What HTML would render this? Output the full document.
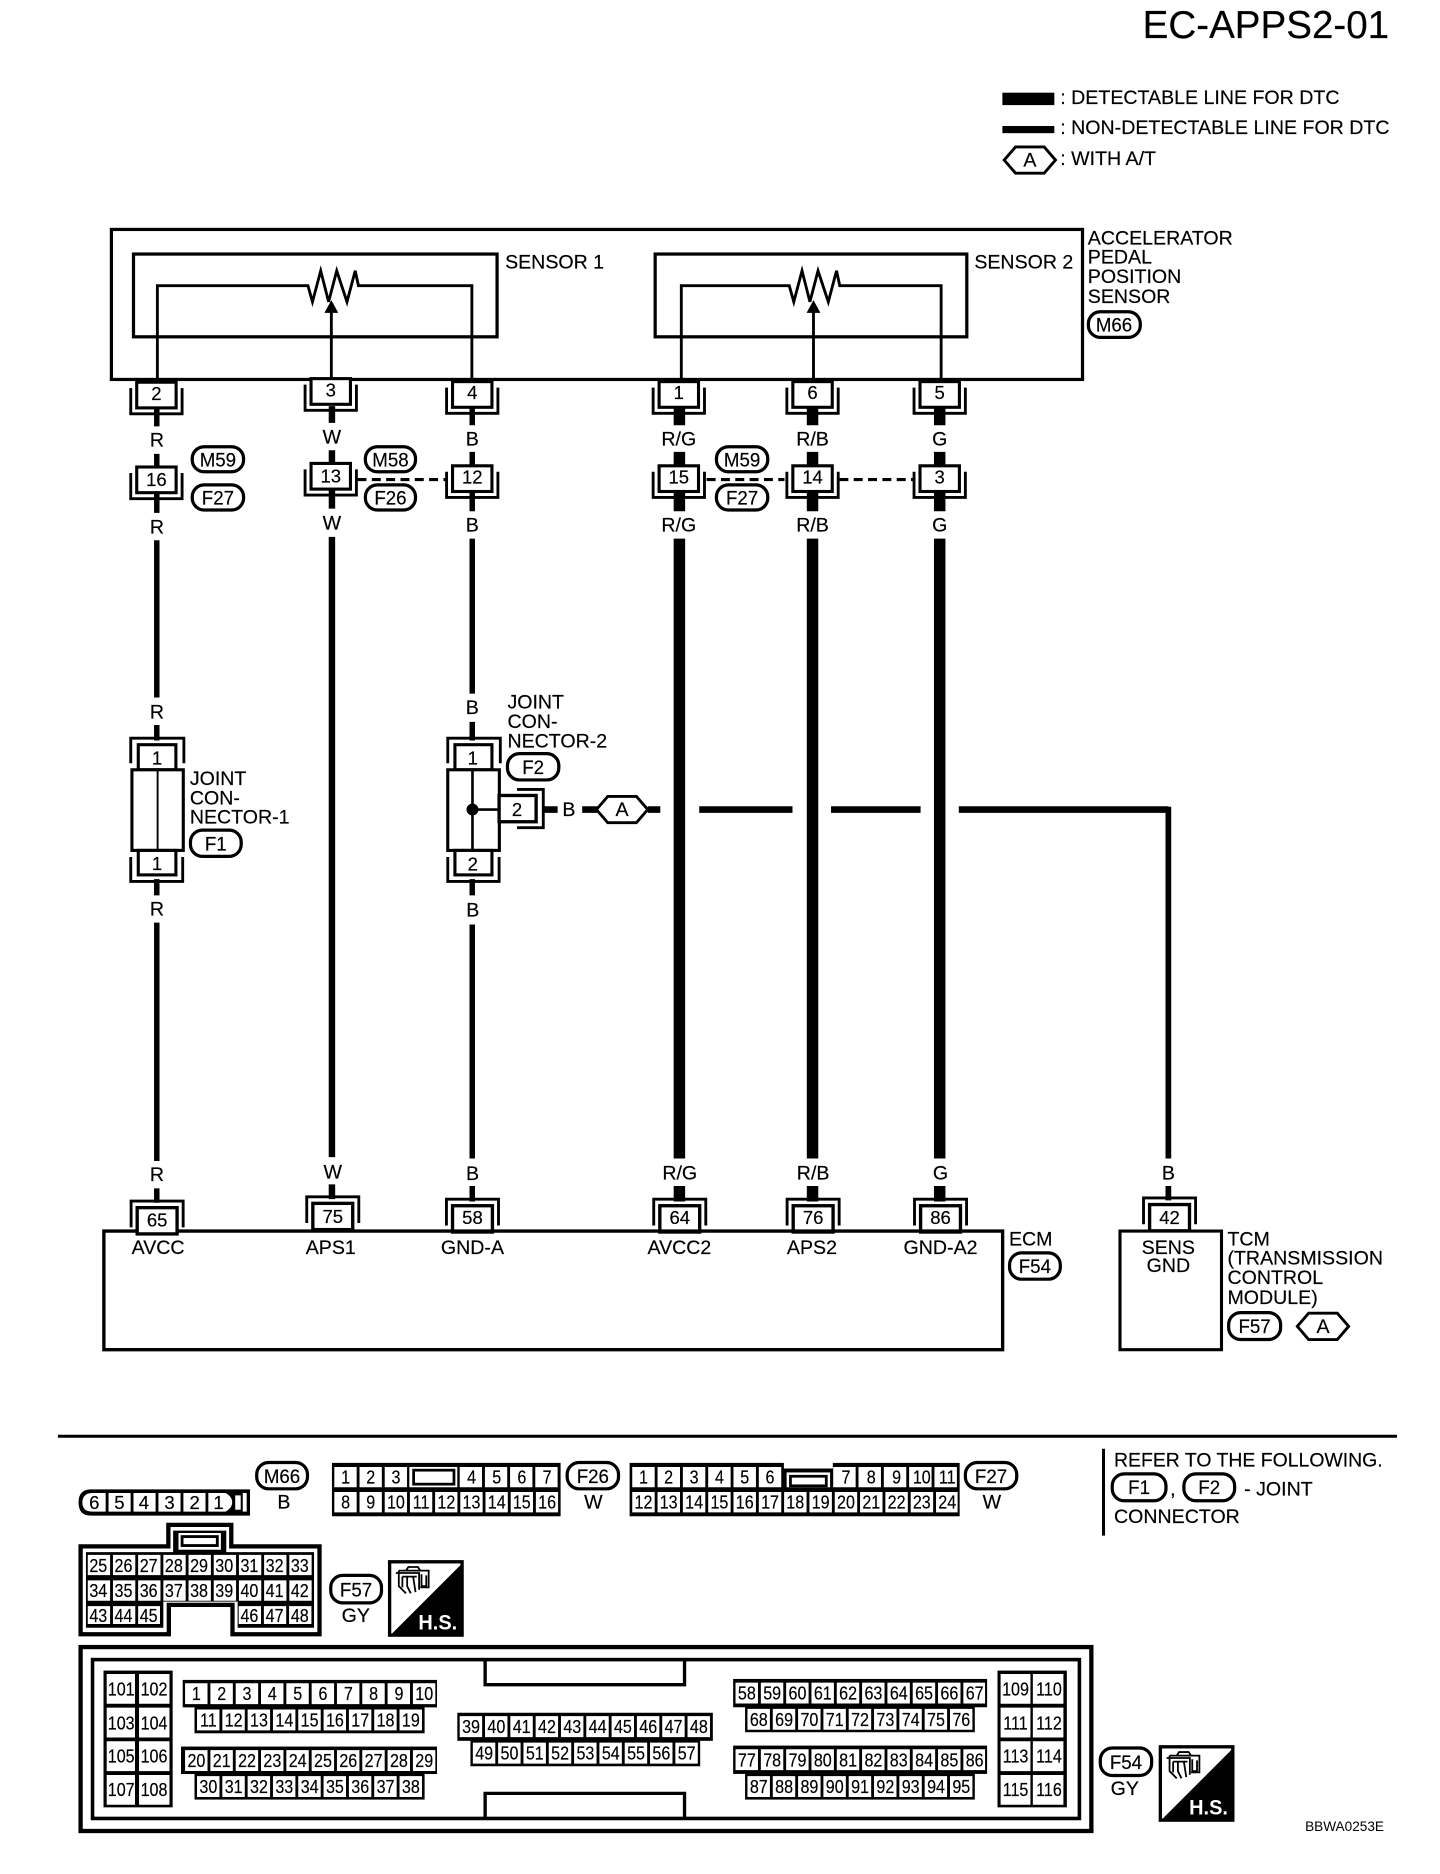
<!DOCTYPE html>
<html><head><meta charset="utf-8"><title>EC-APPS2-01</title>
<style>
html,body{margin:0;padding:0;background:#fff}
svg{display:block;width:1440px;height:1874px}
text{font-family:"Liberation Sans",sans-serif;fill:#000;font-size:16.4px;stroke:#000;stroke-width:.15}
.m text{text-anchor:middle}
.n text{text-anchor:middle;font-size:15.5px}
.nn text{text-anchor:middle;font-size:15.5px;transform-box:fill-box;transform-origin:center;transform:scaleX(.87)}
.p text{text-anchor:middle;font-size:16.5px;transform-box:fill-box;transform-origin:center;transform:scaleX(.95)}
.l{fill:none;stroke:#000;stroke-width:2.4}
.c{fill:none;stroke:#fff;stroke-dasharray:18.8 2.4}
.hs{font-size:18px;font-weight:bold;fill:#fff;stroke:none}
</style></head><body>
<svg viewBox="0 0 1206 1569" preserveAspectRatio="none" xmlns="http://www.w3.org/2000/svg">
<defs>
<g id="cd"><path class="l" d="M-21.5 5V26.5H21.5V5"/><rect x="-16.5" y="0" width="33" height="21.5" fill="#fff" stroke="#000" stroke-width="2.6"/></g>
<g id="cu"><path class="l" d="M-21.8 22V0H21.8V22"/><rect x="-16.7" y="5.5" width="33.4" height="22" fill="#fff" stroke="#000" stroke-width="2.8"/></g>
<g id="hs"><rect x="326.3" y="1307.6" width="60.7" height="61.4" fill="#fff" stroke="#000" stroke-width="2.8"/><path d="M387 1309V1369H327Z"/><path class="l" style="stroke-width:1.5" d="M331.5 1317H351V1331M334 1315H359V1329H352M334 1315V1328L340 1334M337 1320H349M337 1320V1329M341 1320V1328L344 1334M346 1320L348 1333M353 1318V1328H357V1319M340 1315L342 1312H350L352 1315"/></g>
<polygon id="hx" class="l" points="-21.5,0 -12,-11 12,-11 21.5,0 12,11 -12,11"/>
</defs>

<!-- header -->
<text x="957" y="32" style="font-size:32.3px">EC-APPS2-01</text>
<rect x="839.5" y="77.6" width="43.5" height="10.4"/>
<rect x="839.5" y="105.5" width="43.5" height="6"/>
<use href="#hx" x="862.5" y="134"/>
<text x="862.5" y="139.5" text-anchor="middle">A</text>
<text x="888" y="87">: DETECTABLE LINE FOR DTC</text>
<text x="888" y="112">: NON-DETECTABLE LINE FOR DTC</text>
<text x="888" y="138">: WITH A/T</text>

<!-- sensor -->
<rect class="l" x="93.3" y="192.1" width="813.3" height="125.6" style="stroke-width:2.7"/>
<rect class="l" x="111.8" y="212.7" width="304.5" height="69.3" style="stroke-width:2.7"/>
<rect class="l" x="548.7" y="212.7" width="261" height="69.3" style="stroke-width:2.7"/>
<path class="l" d="M131.8 318V239.2H257.9L261.7 252.7 268.6 226.7 275.2 252.7 282 226.7 290.6 252.7 297.5 226.7 300.2 239.2H395.2V318"/>
<path class="l" d="M277.5 318V260"/><path d="M277.5 251.3L283.3 262H271.7Z"/>
<path class="l" d="M570.6 318V239.2H661L664.8 252.7 671.7 226.7 678.3 252.7 685.1 226.7 693.7 252.7 700.6 226.7 703.3 239.2H788.2V318"/>
<path class="l" d="M681.3 318V260"/><path d="M681.3 251.3L687.1 262H675.5Z"/>
<text x="423" y="225">SENSOR 1</text>
<text x="816" y="225">SENSOR 2</text>
<text x="911" y="204.6">ACCELERATOR</text>
<text x="911" y="220.7">PEDAL</text>
<text x="911" y="237">POSITION</text>
<text x="911" y="253.5">SENSOR</text>

<!-- wires -->
<g fill="none" stroke="#000">
<path stroke-width="4.6" d="M131.3 340V357M131.3 380V395M131.3 412V429.4M131.3 452.3V584M131.3 607V620M131.3 736V749.6M131.3 772.5V972M131.3 995V1007"/>
<path stroke-width="5.4" d="M278 340V354M278 377V390M278 410V425.8M278 449.5V968.8M278 991.6V1004"/>
<path stroke-width="4.6" d="M395.5 340V356M395.5 378.3V392M395.5 412V428M395.5 451V580.7M395.5 604.4V620M395.5 736V749.6M395.5 774V970M395.5 993V1006"/>
<path stroke-width="9.6" d="M569 340V356M569 378.3V392M569 412V428M569 451V970M569 993V1006"/>
<path stroke-width="9.6" d="M680.5 340V356M680.5 378.3V392M680.5 412V428M680.5 451V970M680.5 993V1006"/>
<path stroke-width="9.6" d="M787 340V356M787 378.3V392M787 412V428M787 451V970M787 993V1006"/>
<path stroke-width="5.6" d="M455 677.8H467M487.6 677.8H500M542.6 677.8H553M585.6 677.8H663.7M696 677.8H771M803 677.8H978.5"/>
<path stroke-width="4.8" d="M978.5 675.4V970M978.5 993V1005"/>
<path stroke-width="2.6" stroke-dasharray="7.5 4.5" d="M299.4 401.5H375M591.8 401.5H657M703 401.5H765"/>
</g>

<!-- connectors -->
<use href="#cd" x="131" y="320"/><use href="#cd" x="277" y="317"/><use href="#cd" x="395.5" y="319.5"/><use href="#cd" x="568.5" y="319.5"/><use href="#cd" x="680.5" y="319.5"/><use href="#cd" x="787" y="319.5"/>
<use href="#cd" x="131" y="391"/><use href="#cd" x="277" y="388"/><use href="#cd" x="395.5" y="390"/><use href="#cd" x="568.5" y="390"/><use href="#cd" x="680.5" y="390"/><use href="#cd" x="787" y="390"/>
<use href="#cu" x="278.7" y="1002"/><use href="#cu" x="395.7" y="1004"/><use href="#cu" x="569.3" y="1004"/><use href="#cu" x="681" y="1004"/><use href="#cu" x="787.7" y="1004"/><use href="#cu" x="979.5" y="1003"/>
<g class="n">
<text x="131" y="335">2</text><text x="277" y="332">3</text><text x="395.5" y="334">4</text><text x="568.5" y="334">1</text><text x="680.5" y="334">6</text><text x="787" y="334">5</text>
<text x="131" y="407">16</text><text x="277" y="404">13</text><text x="395.5" y="405">12</text><text x="568.5" y="405">15</text><text x="680.5" y="405">14</text><text x="787" y="405">3</text>
<text x="278.7" y="1024">75</text><text x="395.7" y="1025">58</text><text x="569.3" y="1025">64</text><text x="681" y="1025">76</text><text x="787.7" y="1025">86</text><text x="979.5" y="1025">42</text>
</g>
<g class="m">
<text x="131.5" y="374">R</text><text x="278" y="371.5">W</text><text x="395.5" y="373">B</text><text x="568.5" y="373">R/G</text><text x="680.5" y="373">R/B</text><text x="787" y="373">G</text>
<text x="131.5" y="446.5">R</text><text x="278" y="443.5">W</text><text x="395.5" y="445">B</text><text x="568.5" y="445">R/G</text><text x="680.5" y="445">R/B</text><text x="787" y="445">G</text>
<text x="131.5" y="601.5">R</text><text x="395.5" y="598">B</text><text x="131.5" y="766.5">R</text><text x="396" y="767.5">B</text><text x="476.5" y="683">B</text>
<text x="131.5" y="989">R</text><text x="278.7" y="986.5">W</text><text x="395.7" y="988">B</text><text x="569.3" y="987.5">R/G</text><text x="681" y="987.5">R/B</text><text x="787.7" y="987.5">G</text><text x="978.5" y="987.5">B</text>
<text x="277" y="1049.7">APS1</text><text x="395.7" y="1049.7">GND-A</text><text x="569" y="1049.7">AVCC2</text><text x="680" y="1049.7">APS2</text><text x="787.7" y="1049.7">GND-A2</text>
<text x="978.5" y="1049.7">SENS</text><text x="978.5" y="1065">GND</text>
</g>

<!-- joint connector 1 -->
<path class="l" d="M109.5 639V618H154V639"/>
<rect x="115.8" y="623.5" width="31.5" height="21" fill="#fff" stroke="#000" stroke-width="2.6"/>
<rect x="110.5" y="644.5" width="43" height="67.5" fill="#fff" stroke="#000" stroke-width="2.6"/>
<path stroke="#000" stroke-width="1.6" d="M132 645V712"/>
<rect x="115.8" y="712" width="31.5" height="20.5" fill="#fff" stroke="#000" stroke-width="2.6"/>
<path class="l" d="M109.5 717.5V738H153V717.5"/>
<g class="n"><text x="131.5" y="640">1</text><text x="131.5" y="728.5">1</text></g>
<text x="159" y="657.4">JOINT</text><text x="159" y="673.4">CON-</text><text x="159" y="689.6">NECTOR-1</text>

<!-- joint connector 2 -->
<path class="l" d="M375 639V618H419V639"/>
<rect x="381" y="623.5" width="31" height="21" fill="#fff" stroke="#000" stroke-width="2.6"/>
<rect x="375" y="644.5" width="43.2" height="67.5" fill="#fff" stroke="#000" stroke-width="2.6"/>
<path stroke="#000" stroke-width="2.2" d="M395.7 645V712M395.7 677.8H418"/><circle cx="395.7" cy="677.8" r="5"/>
<rect x="381" y="712" width="31" height="20.5" fill="#fff" stroke="#000" stroke-width="2.6"/>
<path class="l" d="M375 717.5V738H418V717.5"/>
<path class="l" d="M433 661H455V693H433"/>
<rect x="418" y="666" width="31" height="22" fill="#fff" stroke="#000" stroke-width="2.8"/>
<g class="n"><text x="396" y="640">1</text><text x="396" y="729">2</text><text x="433" y="683">2</text></g>
<text x="425" y="593">JOINT</text><text x="425" y="609.4">CON-</text><text x="425" y="626">NECTOR-2</text>
<use href="#hx" x="521" y="677.8"/><text x="521" y="683.3" text-anchor="middle">A</text>

<!-- ECM / TCM -->
<path class="l" d="M115 1030.7H87V1130H839.7V1030.7H115" style="stroke-width:2.8"/>
<path class="l" d="M938 1030.7H1023V1130H938Z" style="stroke-width:2.6"/>
<use href="#cu" x="131.6" y="1005.6"/>
<text x="131.6" y="1027" text-anchor="middle" style="font-size:15.5px">65</text>
<text x="132.4" y="1049.7" text-anchor="middle">AVCC</text>
<text x="845" y="1042.7">ECM</text>
<text x="1028" y="1042.7">TCM</text><text x="1028" y="1058.7">(TRANSMISSION</text><text x="1028" y="1074.9">CONTROL</text><text x="1028" y="1091.6">MODULE)</text>
<use href="#hx" x="1108" y="1110.5"/><text x="1108" y="1116" text-anchor="middle">A</text>

<!-- pills -->
<g fill="#fff" stroke="#000" stroke-width="2.7">
<rect x="911.5" y="261" width="43.5" height="21.5" rx="10"/>
<rect x="161" y="374" width="43" height="21" rx="10"/><rect x="161" y="406" width="43" height="21" rx="10"/>
<rect x="306" y="374" width="42" height="21" rx="10"/><rect x="306" y="406" width="42" height="21" rx="10"/>
<rect x="600" y="374" width="43" height="21" rx="10"/><rect x="600" y="406" width="43" height="21" rx="10"/>
<rect x="159.5" y="695" width="42.5" height="22" rx="10"/><rect x="425" y="631" width="43" height="22" rx="10"/>
<rect x="845.5" y="1049" width="42.5" height="22" rx="10"/><rect x="1029" y="1099" width="43.5" height="22.5" rx="10"/>
<rect x="215" y="1224.5" width="42.5" height="22" rx="10"/><rect x="475" y="1224.5" width="43" height="22" rx="10"/><rect x="808.5" y="1224.5" width="43" height="22" rx="10"/>
<rect x="931.5" y="1234" width="45" height="22.5" rx="10"/><rect x="991.5" y="1234" width="42.5" height="22.5" rx="10"/>
<rect x="277" y="1319" width="42.5" height="23" rx="10"/><rect x="921.5" y="1463.5" width="43" height="23" rx="10"/>
</g>
<g class="p">
<text x="933" y="277.5">M66</text>
<text x="182.5" y="390.5">M59</text><text x="182.5" y="422.5">F27</text><text x="327" y="390.5">M58</text><text x="327" y="422.5">F26</text><text x="621.5" y="390.5">M59</text><text x="621.5" y="422.5">F27</text>
<text x="180.7" y="712">F1</text><text x="446.5" y="648">F2</text><text x="866.7" y="1066">F54</text><text x="1050.7" y="1116">F57</text>
<text x="236.2" y="1241.5">M66</text><text x="496.5" y="1241.5">F26</text><text x="830" y="1241.5">F27</text>
<text x="954" y="1251">F1</text><text x="1012.7" y="1251">F2</text><text x="298.2" y="1336.5">F57</text><text x="943" y="1481">F54</text>
</g>

<!-- bottom section -->
<path stroke="#000" stroke-width="2.5" d="M48.5 1202.5H1170M924.2 1213V1285.7"/>
<g class="m">
<text x="237.8" y="1263">B</text><text x="497" y="1263">W</text><text x="830.7" y="1263">W</text><text x="298" y="1358">GY</text><text x="942" y="1503">GY</text>
</g>
<text x="933" y="1228" textLength="225" lengthAdjust="spacingAndGlyphs">REFER TO THE FOLLOWING.</text>
<text x="980" y="1252">,</text><text x="1042" y="1252">- JOINT</text><text x="933" y="1275">CONNECTOR</text>

<!-- M66 6 pin -->
<path d="M76 1247H209.4V1269H76Q65.8 1269 65.8 1258T76 1247Z"/>
<path fill="#fff" d="M77 1250H88.5V1265.6H77Q69 1265.6 69 1258T77 1250Z"/>
<path class="c" stroke-width="15.6" style="stroke-dasharray:18.5 2.4" d="M90.9 1257.8H175"/>
<path fill="#fff" d="M174.6 1250H189Q194.5 1253 194.5 1257.8T189 1265.6H174.6Z"/>
<rect x="197" y="1252" width="4.6" height="12" fill="#fff"/>
<rect x="203.3" y="1250" width="3.3" height="15.6" fill="#fff"/>
<g class="n"><text x="79" y="1263.5">6</text><text x="100" y="1263.5">5</text><text x="120.5" y="1263.5">4</text><text x="142" y="1263.5">3</text><text x="163" y="1263.5">2</text><text x="183" y="1263.5">1</text></g>

<!-- F26 16 pin -->
<rect x="278" y="1224.8" width="191.5" height="44.7"/>
<path class="c" stroke-width="17" style="stroke-dasharray:18.7 2.4" d="M280 1236.7H343.3M385 1236.7H467.4M280 1257.7H467.4"/>
<rect x="342.8" y="1228.2" width="40.2" height="17" fill="#fff"/>
<rect x="346.4" y="1230.9" width="33.8" height="11.7" fill="none" stroke="#000" stroke-width="2.3"/>
<g class="nn">
<text x="289.4" y="1242">1</text><text x="310.5" y="1242">2</text><text x="331.6" y="1242">3</text><text x="394.9" y="1242">4</text><text x="416" y="1242">5</text><text x="437" y="1242">6</text><text x="458.2" y="1242">7</text>
<text x="289.4" y="1263">8</text><text x="310.5" y="1263">9</text><text x="331.6" y="1263">10</text><text x="352.7" y="1263">11</text><text x="373.8" y="1263">12</text><text x="394.9" y="1263">13</text><text x="416" y="1263">14</text><text x="437" y="1263">15</text><text x="458.2" y="1263">16</text>
</g>

<!-- F27 24 pin -->
<rect x="527.3" y="1224.8" width="276.4" height="44.7"/>
<rect x="656.5" y="1223" width="41" height="6.5" fill="#fff"/>
<path class="c" stroke-width="17" style="stroke-dasharray:18.8 2.4" d="M529.5 1236.7H654.3M697.8 1236.7H802M529.5 1257.7H802"/>
<rect x="658.8" y="1232.8" width="36.4" height="12.4" fill="#fff"/>
<rect x="662" y="1236" width="30" height="8" fill="none" stroke="#000" stroke-width="2.3"/>
<g class="nn">
<text x="538.9" y="1242">1</text><text x="560" y="1242">2</text><text x="581.3" y="1242">3</text><text x="602.5" y="1242">4</text><text x="623.7" y="1242">5</text><text x="644.9" y="1242">6</text><text x="708.5" y="1242">7</text><text x="729.7" y="1242">8</text><text x="750.9" y="1242">9</text><text x="772" y="1242">10</text><text x="793.3" y="1242">11</text>
<text x="538.9" y="1263">12</text><text x="560" y="1263">13</text><text x="581.3" y="1263">14</text><text x="602.5" y="1263">15</text><text x="623.7" y="1263">16</text><text x="644.9" y="1263">17</text><text x="666" y="1263">18</text><text x="687.3" y="1263">19</text><text x="708.5" y="1263">20</text><text x="729.7" y="1263">21</text><text x="750.9" y="1263">22</text><text x="772" y="1263">23</text><text x="793.3" y="1263">24</text>
</g>

<!-- F57 48 pin -->
<path fill="#fff" stroke="#000" stroke-width="3.6" d="M67.5 1294.7H141V1276.7H193.7V1294.7H267.6V1368.3H194.7V1343.7H141.4V1368.3H67.5Z"/>
<path d="M72 1299.5H145V1281.5H189.5V1299.5H263V1362.8H199V1341H136.8V1362.8H72Z"/>
<rect x="149.5" y="1283.5" width="35.5" height="14" fill="#fff"/>
<rect x="152.5" y="1286.5" width="29.5" height="7.5" fill="none" stroke="#000" stroke-width="2.4"/>
<path class="c" stroke-width="17" style="stroke-dasharray:18.7 2.4" d="M73.5 1310.3H262M73.5 1331.7H262"/>
<path class="c" stroke-width="15" style="stroke-dasharray:18.7 2.4" d="M73.5 1352.2H134M199.9 1352.2H262"/>
<g class="nn">
<text x="82.3" y="1316">25</text><text x="103.4" y="1316">26</text><text x="124.5" y="1316">27</text><text x="145.6" y="1316">28</text><text x="166.7" y="1316">29</text><text x="187.8" y="1316">30</text><text x="208.9" y="1316">31</text><text x="230" y="1316">32</text><text x="251.1" y="1316">33</text>
<text x="82.3" y="1337">34</text><text x="103.4" y="1337">35</text><text x="124.5" y="1337">36</text><text x="145.6" y="1337">37</text><text x="166.7" y="1337">38</text><text x="187.8" y="1337">39</text><text x="208.9" y="1337">40</text><text x="230" y="1337">41</text><text x="251.1" y="1337">42</text>
<text x="82.3" y="1358">43</text><text x="103.4" y="1358">44</text><text x="124.5" y="1358">45</text><text x="208.9" y="1358">46</text><text x="230" y="1358">47</text><text x="251.1" y="1358">48</text>
</g>
<use href="#hs"/>
<text class="hs" x="350.4" y="1364.5" textLength="32.5" lengthAdjust="spacingAndGlyphs">H.S.</text>
<use href="#hs" x="645.5" y="154.9"/>
<text class="hs" x="995.9" y="1519.4" textLength="32.5" lengthAdjust="spacingAndGlyphs">H.S.</text>

<!-- F54 116 pin -->
<rect x="67.5" y="1379" width="846.5" height="154" fill="none" stroke="#000" stroke-width="3.6"/>
<rect x="77.5" y="1389.5" width="826.5" height="133" fill="none" stroke="#000" stroke-width="3"/>
<path class="l" style="stroke-width:2.8" d="M406.3 1389.5V1410.5H573.3V1389.5M406.3 1522.5V1501.5H573.3V1522.5"/>

<rect x="86.7" y="1398.7" width="57.9" height="114.5"/>
<rect x="835.4" y="1398.7" width="58.1" height="114.5"/>
<g fill="none" stroke="#fff" stroke-dasharray="25 3.2">
<path stroke-width="23.7" d="M101.2 1401.5V1511"/><path stroke-width="25.5" d="M129.2 1401.5V1511"/>
<path stroke-width="25" d="M850.5 1401.5V1511"/><path stroke-width="25.6" d="M877.8 1401.5V1511"/>
</g>
<rect x="153" y="1406.5" width="213" height="23"/><rect x="162.9" y="1429" width="192.7" height="22.2"/>
<rect x="151.6" y="1462.3" width="214.4" height="23"/><rect x="162.9" y="1485" width="192.7" height="21.7"/>
<rect x="383" y="1434" width="214" height="23.5"/><rect x="394" y="1457" width="192.4" height="21.8"/>
<rect x="614" y="1405.7" width="212.7" height="23.7"/><rect x="624" y="1429" width="192.4" height="21.3"/>
<rect x="614" y="1461.5" width="212.7" height="23.7"/><rect x="624" y="1485" width="192.4" height="21.7"/>
<g class="c" stroke-width="17.5">
<path d="M155 1418H364.8M165 1440H353.6M155 1474H364.8M165 1495.8H353.6"/>
<path d="M385 1445.6H594.8M396 1467.8H584.6"/>
<path d="M616 1417.5H825M626 1439.5H814.6M616 1473.3H825M626 1495.8H814.6"/>
</g>
<g class="nn">
<text x="101.5" y="1419.5">101</text><text x="129" y="1419.5">102</text><text x="101.5" y="1448">103</text><text x="129" y="1448">104</text><text x="101.5" y="1475.5">105</text><text x="129" y="1475.5">106</text><text x="101.5" y="1503.5">107</text><text x="129" y="1503.5">108</text>
<text x="850.5" y="1419.5">109</text><text x="878.5" y="1419.5">110</text><text x="850.5" y="1448">111</text><text x="878.5" y="1448">112</text><text x="850.5" y="1475.5">113</text><text x="878.5" y="1475.5">114</text><text x="850.5" y="1503.5">115</text><text x="878.5" y="1503.5">116</text>

<text x="164.5" y="1423.5">1</text><text x="185.7" y="1423.5">2</text><text x="206.9" y="1423.5">3</text><text x="228.1" y="1423.5">4</text><text x="249.3" y="1423.5">5</text><text x="270.5" y="1423.5">6</text><text x="291.7" y="1423.5">7</text><text x="312.9" y="1423.5">8</text><text x="334.1" y="1423.5">9</text><text x="355.3" y="1423.5">10</text>
<text x="174.5" y="1445.5">11</text><text x="195.7" y="1445.5">12</text><text x="216.9" y="1445.5">13</text><text x="238.1" y="1445.5">14</text><text x="259.3" y="1445.5">15</text><text x="280.5" y="1445.5">16</text><text x="301.7" y="1445.5">17</text><text x="322.9" y="1445.5">18</text><text x="344.1" y="1445.5">19</text>
<text x="164.5" y="1479.5">20</text><text x="185.7" y="1479.5">21</text><text x="206.9" y="1479.5">22</text><text x="228.1" y="1479.5">23</text><text x="249.3" y="1479.5">24</text><text x="270.5" y="1479.5">25</text><text x="291.7" y="1479.5">26</text><text x="312.9" y="1479.5">27</text><text x="334.1" y="1479.5">28</text><text x="355.3" y="1479.5">29</text>
<text x="174.5" y="1501">30</text><text x="195.7" y="1501">31</text><text x="216.9" y="1501">32</text><text x="238.1" y="1501">33</text><text x="259.3" y="1501">34</text><text x="280.5" y="1501">35</text><text x="301.7" y="1501">36</text><text x="322.9" y="1501">37</text><text x="344.1" y="1501">38</text>

<text x="394.5" y="1451">39</text><text x="415.7" y="1451">40</text><text x="436.9" y="1451">41</text><text x="458.1" y="1451">42</text><text x="479.3" y="1451">43</text><text x="500.5" y="1451">44</text><text x="521.7" y="1451">45</text><text x="542.9" y="1451">46</text><text x="564.1" y="1451">47</text><text x="585.3" y="1451">48</text>
<text x="405.5" y="1473">49</text><text x="426.7" y="1473">50</text><text x="447.9" y="1473">51</text><text x="469.1" y="1473">52</text><text x="490.3" y="1473">53</text><text x="511.5" y="1473">54</text><text x="532.7" y="1473">55</text><text x="553.9" y="1473">56</text><text x="575.1" y="1473">57</text>

<text x="625.5" y="1423">58</text><text x="646.7" y="1423">59</text><text x="667.9" y="1423">60</text><text x="689.1" y="1423">61</text><text x="710.3" y="1423">62</text><text x="731.5" y="1423">63</text><text x="752.7" y="1423">64</text><text x="773.9" y="1423">65</text><text x="795.1" y="1423">66</text><text x="816.3" y="1423">67</text>
<text x="635.5" y="1445">68</text><text x="656.7" y="1445">69</text><text x="677.9" y="1445">70</text><text x="699.1" y="1445">71</text><text x="720.3" y="1445">72</text><text x="741.5" y="1445">73</text><text x="762.7" y="1445">74</text><text x="783.9" y="1445">75</text><text x="805.1" y="1445">76</text>
<text x="625.5" y="1479">77</text><text x="646.7" y="1479">78</text><text x="667.9" y="1479">79</text><text x="689.1" y="1479">80</text><text x="710.3" y="1479">81</text><text x="731.5" y="1479">82</text><text x="752.7" y="1479">83</text><text x="773.9" y="1479">84</text><text x="795.1" y="1479">85</text><text x="816.3" y="1479">86</text>
<text x="635.5" y="1501">87</text><text x="656.7" y="1501">88</text><text x="677.9" y="1501">89</text><text x="699.1" y="1501">90</text><text x="720.3" y="1501">91</text><text x="741.5" y="1501">92</text><text x="762.7" y="1501">93</text><text x="783.9" y="1501">94</text><text x="805.1" y="1501">95</text>
</g>
<text x="1093" y="1533" style="font-size:11.4px;stroke:none">BBWA0253E</text>
</svg>
</body></html>
